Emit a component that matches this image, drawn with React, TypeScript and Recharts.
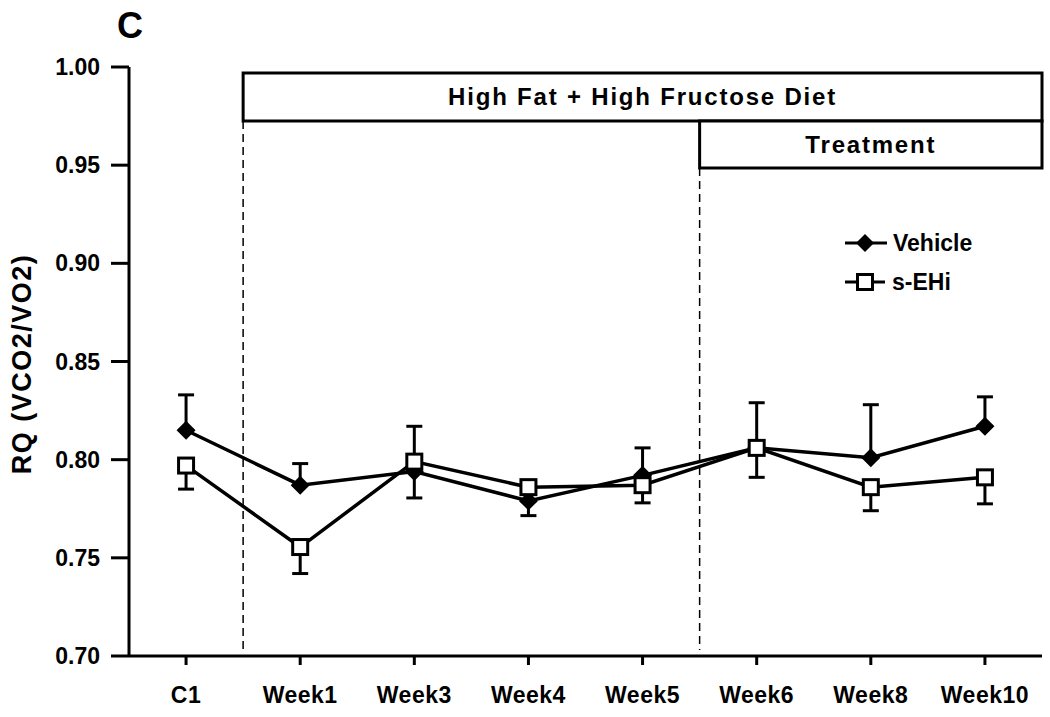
import React from "react";
import {
  ComposedChart,
  Line,
  Scatter,
  XAxis,
  YAxis,
  ErrorBar,
  ReferenceArea,
  ReferenceLine,
} from "recharts";

const FONT = '"Liberation Sans", Arial, Helvetica, sans-serif';

const weeks = ["C1", "Week1", "Week3", "Week4", "Week5", "Week6", "Week8", "Week10"];
const vehicle = [0.815, 0.787, 0.794, 0.779, 0.792, 0.806, 0.801, 0.817];
// [minus, plus]
const vehicleErr = [[0, 0.018], [0, 0.011], [0.0135, 0], [0.0075, 0], [0, 0.014], [0, 0.023], [0, 0.027], [0, 0.015]];
const sehi = [0.797, 0.7555, 0.799, 0.786, 0.787, 0.806, 0.786, 0.791];
const sehiErr = [[0.012, 0], [0.0135, 0], [0, 0.018], [0, 0], [0.009, 0], [0.015, 0], [0.012, 0], [0.0135, 0]];
const yTicks = [0.7, 0.75, 0.8, 0.85, 0.9, 0.95, 1.0];

const data = weeks.map((w, i) => ({
  week: w,
  vehicle: vehicle[i],
  vehicleErr: vehicleErr[i],
  sehi: sehi[i],
  sehiErr: sehiErr[i],
}));

const tickStyle = { fill: "#000", fontSize: 23, fontWeight: "bold", fontFamily: FONT };

const Diamond = (props: any) => {
  const { cx, cy } = props;
  if (cx == null || cy == null) return null;
  const r = 9.5;
  return <polygon points={`${cx},${cy - r} ${cx + r},${cy} ${cx},${cy + r} ${cx - r},${cy}`} fill="#000" />;
};

const Square = (props: any) => {
  const { cx, cy } = props;
  if (cx == null || cy == null) return null;
  return <rect x={cx - 7.5} y={cy - 7.5} width={15} height={15} fill="#fff" stroke="#000" strokeWidth={3} />;
};

export default function App() {
  return (
    <div style={{ position: "absolute", left: 0, top: 0, width: 1050, height: 717, background: "#fff" }}>
      <ComposedChart width={1050} height={717} data={data} margin={{ top: 67, right: 8, bottom: 0, left: 0 }}>
        <XAxis
          dataKey="week"
          scale="band"
          height={61}
          axisLine={{ stroke: "#000", strokeWidth: 3 }}
          tickLine={{ stroke: "#000", strokeWidth: 3 }}
          tickSize={9}
          tickMargin={22}
          tick={{ ...tickStyle, letterSpacing: 0.5 }}
          interval={0}
        />
        <YAxis
          width={129}
          domain={[0.7, 1.0]}
          ticks={yTicks}
          allowDataOverflow
          tickFormatter={(v: number) => v.toFixed(2)}
          axisLine={{ stroke: "#000", strokeWidth: 3 }}
          tickLine={{ stroke: "#000", strokeWidth: 3 }}
          tickSize={18}
          tickMargin={11}
          tick={tickStyle}
          label={{
            content: () => (
              <text
                x={22}
                y={364}
                transform="rotate(-90 22 364)"
                textAnchor="middle"
                dominantBaseline="central"
                fontSize={27}
                fontWeight="bold"
                fontFamily={FONT}
                letterSpacing={1.5}
                fill="#000"
              >
                RQ (VCO2/VO2)
              </text>
            ),
          }}
        />
        <ReferenceLine
          segment={[{ x: "Week1", y: 0.9725 }, { x: "Week1", y: 0.703 }]}
          position="start"
          stroke="#000"
          strokeWidth={1.5}
          strokeDasharray="8 5"
        />
        <ReferenceLine
          segment={[{ x: "Week6", y: 0.9486 }, { x: "Week6", y: 0.703 }]}
          position="start"
          stroke="#000"
          strokeWidth={1.5}
          strokeDasharray="8 5"
        />
        <ReferenceArea
          x1="Week1"
          x2="Week10"
          y1={0.9725}
          y2={0.997}
          fill="#fff"
          fillOpacity={1}
          stroke="#000"
          strokeWidth={3}
          label={{
            value: "High Fat + High Fructose Diet",
            position: "center",
            fill: "#000",
            fontSize: 24,
            fontWeight: "bold",
            fontFamily: FONT,
            letterSpacing: 1.8,
          }}
        />
        <ReferenceArea
          x1="Week6"
          x2="Week10"
          y1={0.9486}
          y2={0.9725}
          fill="#fff"
          fillOpacity={1}
          stroke="#000"
          strokeWidth={3}
          label={{
            value: "Treatment",
            position: "center",
            fill: "#000",
            fontSize: 24,
            fontWeight: "bold",
            fontFamily: FONT,
            letterSpacing: 1.8,
          }}
        />
        <Line
          dataKey="vehicle"
          stroke="#000"
          strokeWidth={3.5}
          dot={false}
          activeDot={false}
          isAnimationActive={false}
        >
          <ErrorBar dataKey="vehicleErr" width={8} stroke="#000" strokeWidth={3} />
        </Line>
        <Line
          dataKey="sehi"
          stroke="#000"
          strokeWidth={3.5}
          dot={false}
          activeDot={false}
          isAnimationActive={false}
        >
          <ErrorBar dataKey="sehiErr" width={8} stroke="#000" strokeWidth={3} />
        </Line>
        {/* markers on top so the zero-length error caps stay hidden */}
        <Scatter dataKey="vehicle" shape={<Diamond />} zIndex={2500} isAnimationActive={false} />
        <Scatter dataKey="sehi" shape={<Square />} zIndex={2600} isAnimationActive={false} />
      </ComposedChart>
      <svg
        width={1050}
        height={717}
        style={{ position: "absolute", left: 0, top: 0, pointerEvents: "none" }}
      >
        <text x={117} y={38} fontSize={36} fontWeight="bold" fontFamily={FONT} fill="#000">
          C
        </text>
        <g fontFamily={FONT} fontWeight="bold" fontSize={23} fill="#000">
          <line x1={845} x2={887} y1={243} y2={243} stroke="#000" strokeWidth={3} />
          <polygon points="865,234 874,243 865,252 856,243" fill="#000" />
          <text x={893} y={243} dominantBaseline="central">Vehicle</text>
          <line x1={845} x2={885} y1={282} y2={282} stroke="#000" strokeWidth={3} />
          <rect x={857.5} y={274.5} width={15} height={15} fill="#fff" stroke="#000" strokeWidth={3} />
          <text x={892} y={282} dominantBaseline="central">s-EHi</text>
        </g>
      </svg>
    </div>
  );
}
